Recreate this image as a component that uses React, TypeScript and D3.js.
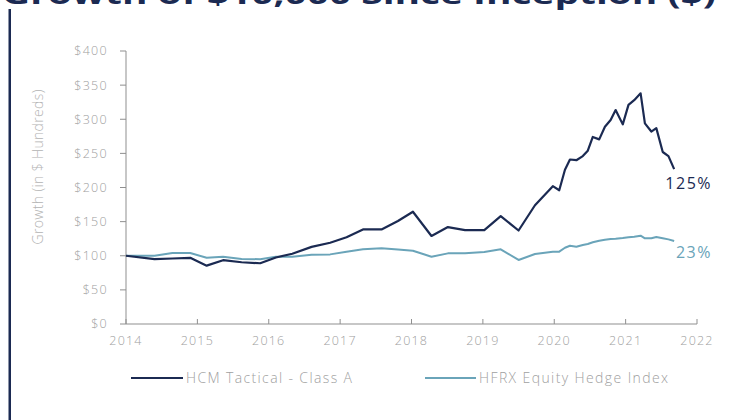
import React from "react";
import * as d3 from "d3";

const dates = [2014.0, 2014.4, 2014.65, 2014.9, 2015.13, 2015.36, 2015.62, 2015.88, 2016.1, 2016.33, 2016.6, 2016.86, 2017.09, 2017.32, 2017.58, 2017.81, 2018.02, 2018.28, 2018.51, 2018.75, 2019.02, 2019.25, 2019.5, 2019.73, 2019.98, 2020.07, 2020.15, 2020.22, 2020.31, 2020.4, 2020.47, 2020.54, 2020.63, 2020.71, 2020.79, 2020.86, 2020.96, 2021.04, 2021.12, 2021.21, 2021.27, 2021.36, 2021.43, 2021.52, 2021.6, 2021.68];
const hcmValues = [100, 95, 96, 97, 85.5, 93.5, 90.5, 89, 97.5, 103, 113, 119, 127, 138.5, 138.5, 151, 164.5, 129, 142, 137.5, 137.5, 158, 137, 174, 202, 196, 226, 241, 240, 246, 254, 274, 270.5, 289, 299, 313.5, 292.5, 321, 328, 338, 294, 282, 287, 252, 246, 227];
const hfrxValues = [100, 100, 104, 104, 97, 98.5, 95.2, 95, 98.5, 98.5, 101.5, 102, 106, 109.4, 111, 109, 107.4, 98.5, 103.5, 103.5, 105.5, 109.4, 93.8, 102.6, 106, 106, 111.8, 114.7, 113.3, 115.7, 117.2, 119.7, 122, 123.5, 124.5, 125, 126, 127, 128, 129.4, 125.6, 125.6, 127.5, 125.6, 124, 121.6];
const yearTicks = [2014, 2015, 2016, 2017, 2018, 2019, 2020, 2021, 2022];
const valueTicks = [0, 50, 100, 150, 200, 250, 300, 350, 400];
const seriesNames = ["HCM Tactical - Class A", "HFRX Equity Hedge Index"];
const endLabels = ["125%", "23%"];
const title = "Growth of $10,000 Since Inception ($)";
const yTitle = "Growth (in $ Hundreds)";

const NAVY = "#1b2a52";
const TEAL = "#6aa4b9";
const GRAY = "#a0a0a0";
const AXIS = "#8f8f8f";
const FONT = "'Open Sans', 'Noto Sans', sans-serif";

export default function App() {
  const W = 748, H = 420;
  const x = d3.scaleLinear().domain([2014, 2022]).range([126, 697]);
  const y = d3.scaleLinear().domain([0, 400]).range([324, 51]);
  const line = d3.line<number>().x((_, i) => x(dates[i])).y((v) => y(v));
  const last = dates.length - 1;
  return (
    <svg width={W} height={H} style={{ position: "absolute", left: 0, top: 0, background: "#fff" }} fontFamily={FONT}>
      <text x={2} y={4} fontSize={27} fontWeight={700} fill={NAVY} textLength={714} lengthAdjust="spacingAndGlyphs">{title}</text>
      <rect x={8.5} y={9} width={2.5} height={H - 9} fill={NAVY} />
      {/* Y axis */}
      <line x1={x(2014)} x2={x(2014)} y1={y(400)} y2={y(0)} stroke={AXIS} strokeWidth={1} />
      {valueTicks.map((v) => (
        <g key={v}>
          <line x1={x(2014) - 6} x2={x(2014)} y1={y(v)} y2={y(v)} stroke={AXIS} strokeWidth={1} />
          <text x={108} y={y(v)} dy="0.35em" textAnchor="end" fontSize={12.5} fill={GRAY} letterSpacing={1.3} fontWeight={300}>{"$" + v}</text>
        </g>
      ))}
      {/* X axis */}
      <line x1={x(2014)} x2={x(2022)} y1={y(0)} y2={y(0)} stroke={AXIS} strokeWidth={1} />
      {yearTicks.map((t) => (
        <g key={t}>
          <line x1={x(t)} x2={x(t)} y1={y(0)} y2={y(0) - 5} stroke={AXIS} strokeWidth={1} />
          <text x={x(t)} y={y(0) + 21} textAnchor="middle" fontSize={12.5} fill={GRAY} letterSpacing={1.2} fontWeight={300}>{t}</text>
        </g>
      ))}
      <text transform={`translate(43,167) rotate(-90)`} textAnchor="middle" fontSize={14} fill="#b3b3b3" fontWeight={300} textLength={155} lengthAdjust="spacing">{yTitle}</text>
      {/* lines */}
      <path d={line(hfrxValues) || ""} fill="none" stroke={TEAL} strokeWidth={2} strokeLinejoin="round" />
      <path d={line(hcmValues) || ""} fill="none" stroke={NAVY} strokeWidth={2.2} strokeLinejoin="round" />
      <text x={712} y={y(hcmValues[last]) + 20} textAnchor="end" fontSize={16} fill={NAVY} letterSpacing={1.5}>{endLabels[0]}</text>
      <text x={712} y={y(hfrxValues[last]) + 17} textAnchor="end" fontSize={16} fill={TEAL} letterSpacing={1.5}>{endLabels[1]}</text>
      {/* legend */}
      <line x1={131} x2={183} y1={378} y2={378} stroke={NAVY} strokeWidth={2.2} />
      <text x={186} y={378} dy="0.35em" fontSize={14} fill={GRAY} fontWeight={300} textLength={166} lengthAdjust="spacing">{seriesNames[0]}</text>
      <line x1={425} x2={476} y1={378} y2={378} stroke={TEAL} strokeWidth={2.2} />
      <text x={479} y={378} dy="0.35em" fontSize={14} fill={GRAY} fontWeight={300} textLength={189} lengthAdjust="spacing">{seriesNames[1]}</text>
    </svg>
  );
}
